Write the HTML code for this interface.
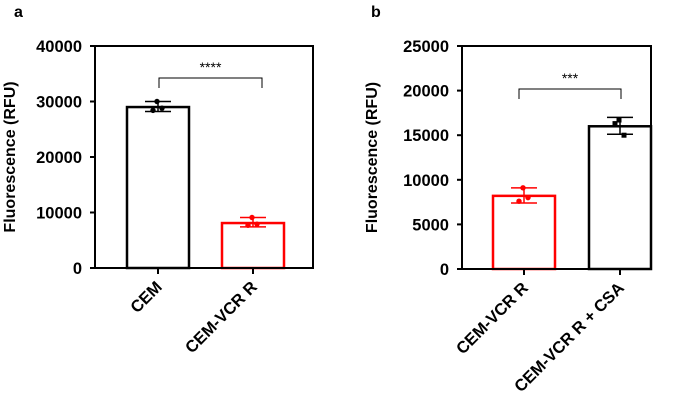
<!DOCTYPE html>
<html><head><meta charset="utf-8"><style>
body{margin:0;background:#fff}
svg{display:block;font-family:"Liberation Sans",Arial,sans-serif}
</style></head><body>
<svg id="s" width="685" height="403"></svg>
<script>
const catsA=["CEM","CEM-VCR R"];
const meansA=[29000,8100];
const errLoA=[28200,7400];
const errHiA=[30000,9100];
const ptsA=[[30000,28400,28800],[9100,7700,7900]];
const ticksA=[0,10000,20000,30000,40000];
const catsB=["CEM-VCR R","CEM-VCR R + CSA"];
const meansB=[8200,16000];
const errLoB=[7400,15100];
const errHiB=[9100,17000];
const ptsB=[[9100,7600,8000],[16700,16300,15000]];
const ticksB=[0,5000,10000,15000,20000,25000];
const colorsA=["#000","#f00"], colorsB=["#f00","#000"];
const NS="http://www.w3.org/2000/svg";
const svg=document.getElementById('s');
function el(t,a,p){const e=document.createElementNS(NS,t);for(const k in a)e.setAttribute(k,a[k]);(p||svg).appendChild(e);return e;}
function panel(o){
  const g=el('g',{});
  
  
  const y=v=>o.y1-(v/o.max)*(o.y1-o.y0);
  const L=el('text',{x:o.letterX,y:17,'font-size':16,'font-weight':'bold'},g);L.textContent=o.letter;
  
  o.ticks.forEach(t=>{
    el('line',{x1:o.x0-5,x2:o.x0,y1:y(t),y2:y(t),stroke:'#000','stroke-width':2},g);
    const tx=el('text',{x:o.x0-13,y:y(t)+6,'font-size':16.5,'font-weight':'bold','text-anchor':'end'},g);
    tx.textContent=t;
    
  });
  const yt=el('text',{transform:`translate(${o.titleX},${(o.y0+o.y1)/2}) rotate(-90)`,'font-size':16,'font-weight':'bold','text-anchor':'middle'},g);
  yt.textContent='Fluorescence (RFU)';
  
  o.cats.forEach((c,i)=>{
    const cx=o.x0+o.c0+o.gap*i, bw=62;
    const b=el('rect',{x:cx-bw/2,y:y(o.means[i]),width:bw,height:o.y1-y(o.means[i]),fill:'#fff',stroke:o.colors[i],'stroke-width':2.5},g);
    
    el('line',{x1:cx,x2:cx,y1:y(o.lo[i]),y2:y(o.hi[i]),stroke:o.colors[i],'stroke-width':1.5},g);
    [o.lo[i],o.hi[i]].forEach(v=>el('line',{x1:cx-13,x2:cx+13,y1:y(v),y2:y(v),stroke:o.colors[i],'stroke-width':1.5},g));
    o.pts[i].forEach((v,j)=>{
      const px=cx+[-1,-5,4][j];
      const p=o.square&&o.colors[i]=='#000'?el('rect',{x:px-2.5,y:y(v)-2.5,width:5,height:5,fill:o.colors[i]},g):el('circle',{cx:px,cy:y(v),r:2.7,fill:o.colors[i]},g);
      
    });
    el('line',{x1:cx,x2:cx,y1:o.y1,y2:o.y1+6,stroke:'#000','stroke-width':2},g);
    const xl=el('text',{transform:`translate(${cx+5},${o.y1+20}) rotate(-45)`,'font-size':16.5,'font-weight':'bold','text-anchor':'end'},g);
    xl.textContent=c;
    
  });
  el('rect',{x:o.x0,y:o.y0,width:o.x1-o.x0,height:o.y1-o.y0,fill:'none',stroke:'#000','stroke-width':2},g);
  const c1=o.x0+o.c0+o.bo1, c2=o.x0+o.c0+o.gap+o.bo2;
  el('path',{d:`M${c1} ${o.by+10}V${o.by}H${c2}V${o.by+10}`,fill:'none',stroke:'#000','stroke-width':1},g);
  const st=el('text',{x:(c1+c2)/2,y:o.by-6,'font-size':14,'text-anchor':'middle'},g);
  st.textContent=o.stars;
  
}
panel({name:'panel-a',letter:'a',letterX:14,x0:95,x1:313,y0:46,y1:268,max:40000,c0:63,gap:95,bo1:1,bo2:9,ticks:ticksA,cats:catsA,means:meansA,lo:errLoA,hi:errHiA,pts:ptsA,colors:colorsA,titleX:15,by:78,stars:'****',square:false});
panel({name:'panel-b',letter:'b',letterX:371,x0:462,x1:651,y0:46,y1:269,max:25000,c0:62,gap:96,bo1:-5,bo2:1,ticks:ticksB,cats:catsB,means:meansB,lo:errLoB,hi:errHiB,pts:ptsB,colors:colorsB,titleX:377,by:89,stars:'***',square:true});
</script>
</body></html>
